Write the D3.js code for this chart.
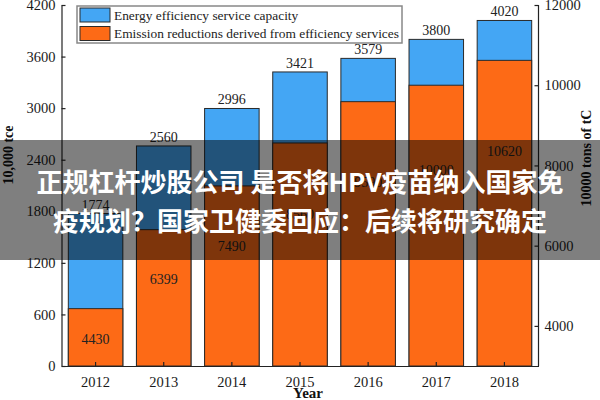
<!DOCTYPE html>
<html>
<head>
<meta charset="utf-8">
<script src="https://cdn.jsdelivr.net/npm/d3@7"></script>
<style>
  html, body { margin: 0; padding: 0; background: #fff; }
  svg { display: block; }
</style>
</head>
<body>
<svg id="chart" width="600" height="400"></svg>
<script>
const years = ["2012", "2013", "2014", "2015", "2016", "2017", "2018"];
const capacity = [1774, 2560, 2996, 3421, 3579, 3800, 4020];
const reductions = [4430, 6399, 7490, 8560, 9590, 10000, 10620];
const leftTicks = [0, 600, 1200, 1800, 2400, 3000, 3600, 4200];
const rightTicks = [4000, 6000, 8000, 10000, 12000];
const legendLabels = ["Energy efficiency service capacity", "Emission reductions derived from efficiency services"];
const bannerLines = ["正规杠杆炒股公司 是否将HPV疫苗纳入国家免", "疫规划？国家卫健委回应：后续将研究确定"];

const BLUE = "#44a6f4", ORANGE = "#fd6a16", STROKE = "#2a2a2a";
const serif = "'Liberation Serif', 'Times New Roman', serif";

const svg = d3.select("#chart");
const plotL = 61.5, plotR = 538.5, plotT = 5, plotB = 366;

const x = d3.scaleBand().domain(years).range([plotL, plotR]).paddingInner(0.2).paddingOuter(0.1);
const yL = d3.scaleLinear().domain([0, 4200]).range([plotB, plotT]);
const yR = d3.scaleLinear().domain([3000, 12000]).range([plotB, plotT]);

const data = years.map((y, i) => ({ year: y, cap: capacity[i], red: reductions[i] }));

// blue bars (total capacity, left axis)
svg.append("g").selectAll("rect").data(data).join("rect")
  .attr("x", d => x(d.year)).attr("width", x.bandwidth())
  .attr("y", d => yL(d.cap)).attr("height", d => yL(0) - yL(d.cap))
  .attr("fill", BLUE).attr("stroke", STROKE).attr("stroke-width", 1);

// orange bars (emission reductions, right axis)
svg.append("g").selectAll("rect").data(data).join("rect")
  .attr("x", d => x(d.year)).attr("width", x.bandwidth())
  .attr("y", d => yR(d.red)).attr("height", d => yR(3000) - yR(d.red))
  .attr("fill", ORANGE).attr("stroke", STROKE).attr("stroke-width", 1);

// value labels
svg.append("g").selectAll("text").data(data).join("text")
  .attr("x", d => x(d.year) + x.bandwidth() / 2)
  .attr("y", d => yL(d.cap) - 4)
  .attr("text-anchor", "middle").attr("font-family", serif).attr("font-size", 14).attr("fill", "#222")
  .text(d => d.cap);

svg.append("g").selectAll("text").data(data).join("text")
  .attr("x", d => x(d.year) + x.bandwidth() / 2)
  .attr("y", d => { const t = yR(d.red), h = yR(3000) - t; return t + 17 + 0.24 * h + 5; })
  .attr("text-anchor", "middle").attr("font-family", serif).attr("font-size", 14).attr("fill", "#222")
  .text(d => d.red);

// axes
const fmt = d3.format("d");
function styleAxis(g) {
  g.selectAll("path.domain").attr("stroke", "#222").attr("stroke-width", 1.2);
  g.selectAll(".tick line").attr("stroke", "#222").attr("stroke-width", 1.2);
  g.selectAll(".tick text").attr("font-family", serif).attr("font-size", 14.5).attr("fill", "#1a1a1a");
}
const gx = svg.append("g").attr("transform", `translate(0,${plotB})`)
  .call(d3.axisBottom(x).tickSizeInner(-4).tickSizeOuter(0).tickPadding(9));
styleAxis(gx);
gx.selectAll(".tick text").attr("dy", "0.85em");

const gl = svg.append("g").attr("transform", `translate(${plotL},0)`)
  .call(d3.axisLeft(yL).tickValues(leftTicks).tickFormat(fmt).tickSizeInner(-4).tickSizeOuter(0).tickPadding(6));
styleAxis(gl);

const gr = svg.append("g").attr("transform", `translate(${plotR},0)`)
  .call(d3.axisRight(yR).tickValues(rightTicks).tickFormat(fmt).tickSizeInner(-4).tickSizeOuter(0).tickPadding(6));
styleAxis(gr);
gr.select("path.domain").attr("d", `M0,${plotT}V${plotB}`);

// axis titles
svg.append("text").attr("transform", "translate(13,155) rotate(-90)")
  .attr("text-anchor", "middle").attr("font-family", serif).attr("font-weight", "bold").attr("font-size", 14)
  .attr("fill", "#111").text("10,000 tce");
svg.append("text").attr("transform", "translate(591,158) rotate(-90)")
  .attr("text-anchor", "middle").attr("font-family", serif).attr("font-weight", "bold").attr("font-size", 14)
  .attr("fill", "#111").text("10000 tons of tC");
svg.append("text").attr("x", 308).attr("y", 398)
  .attr("text-anchor", "middle").attr("font-family", serif).attr("font-weight", "bold").attr("font-size", 15)
  .attr("fill", "#111").text("Year");

// legend
const lg = svg.append("g");
lg.append("rect").attr("x", 77).attr("y", 6).attr("width", 325).attr("height", 37)
  .attr("fill", "#fff").attr("stroke", "#888").attr("stroke-width", 1.5);
const colors = [BLUE, ORANGE];
legendLabels.forEach((t, i) => {
  lg.append("rect").attr("x", 80).attr("y", 8 + i * 18.5).attr("width", 30).attr("height", 14)
    .attr("fill", colors[i]).attr("stroke", STROKE).attr("stroke-width", 1);
  lg.append("text").attr("x", 114).attr("y", 19.5 + i * 18.5)
    .attr("font-family", serif).attr("font-size", 13.4).attr("fill", "#222").text(t);
});

// overlay banner
svg.append("rect").attr("x", 0).attr("y", 140).attr("width", 600).attr("height", 120)
  .attr("fill", "rgba(0,0,0,0.5)");
bannerLines.forEach((t, i) => {
  svg.append("text").attr("x", 300).attr("y", 192 + i * 39)
    .attr("text-anchor", "middle").attr("font-family", "'Noto Sans CJK SC', sans-serif")
    .attr("font-weight", "bold").attr("font-size", 26).attr("fill", "#fff").text(t);
});
</script>
</body>
</html>
